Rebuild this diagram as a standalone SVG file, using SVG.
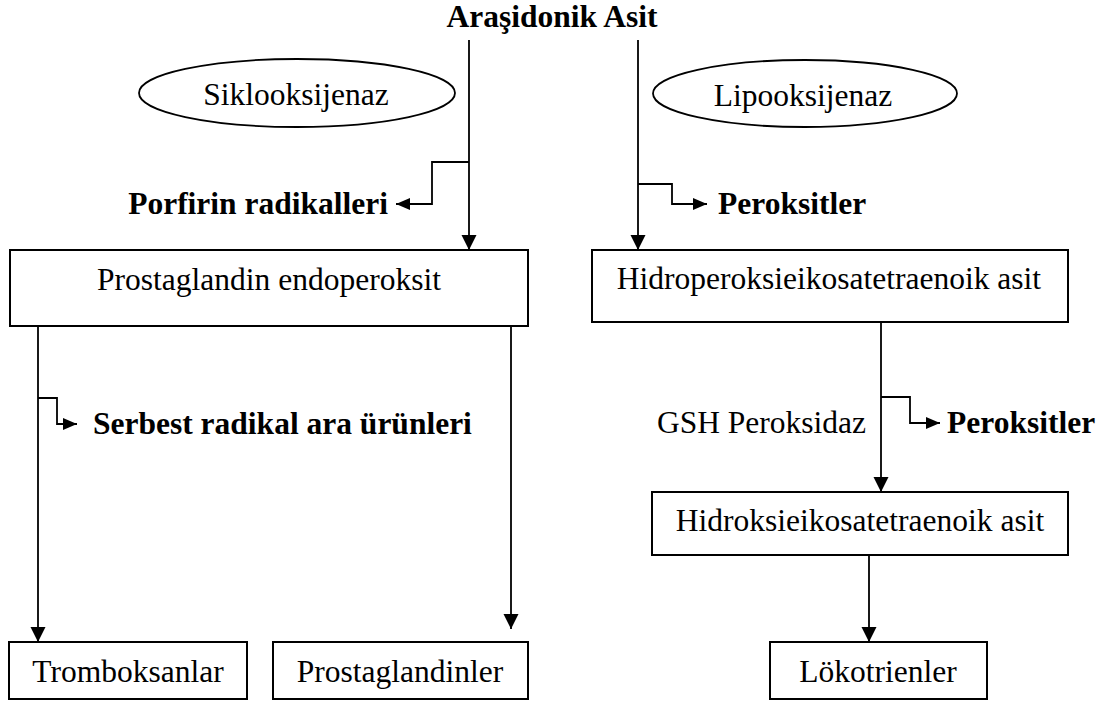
<svg xmlns="http://www.w3.org/2000/svg" width="1102" height="702" viewBox="0 0 1102 702">
<defs>
<marker id="ah" markerUnits="userSpaceOnUse" markerWidth="16" markerHeight="16" refX="15" refY="7.5" orient="auto">
<path d="M0,0 L15,7.5 L0,15 z" fill="#000"/>
</marker>
<marker id="as" markerUnits="userSpaceOnUse" markerWidth="16" markerHeight="14" refX="14" refY="6" orient="auto">
<path d="M0,0 L14,6 L0,12 z" fill="#000"/>
</marker>
</defs>
<style>
text{font-family:"Liberation Serif","Times New Roman",serif;font-size:31.5px;fill:#000}
.b{font-weight:bold}
.m{text-anchor:middle}
.box{fill:#fff;stroke:#000;stroke-width:2}
.ell{fill:#fff;stroke:#000;stroke-width:1.8}
.c{fill:none;stroke:#000;stroke-width:1.8}
.cm{marker-end:url(#ah)}
.cs{marker-end:url(#as)}
</style>
<rect width="1102" height="702" fill="#fff"/>
<g id="connectors">
<line class="c cm" x1="469" y1="40" x2="469" y2="250"/>
<line class="c cm" x1="638" y1="40" x2="638" y2="250"/>
<polyline class="c cs" points="469,162 432,162 432,204 396,204"/>
<polyline class="c cs" points="638,184 672,184 672,204 707,204"/>
<line class="c cm" x1="38" y1="326" x2="38" y2="642"/>
<polyline class="c cs" points="38,398 57,398 57,424 77,424"/>
<line class="c cm" x1="511" y1="326" x2="511" y2="629"/>
<line class="c cm" x1="881" y1="322" x2="881" y2="492"/>
<polyline class="c cs" points="881,397 910,397 910,423 940,423"/>
<line class="c cm" x1="869" y1="555" x2="869" y2="642"/>
</g>
<g id="arasidonik"><text class="b m" x="552" y="27">Araşidonik Asit</text></g>
<g id="siklooksijenaz"><ellipse class="ell" cx="297" cy="93" rx="158" ry="34"/><text class="m" x="296" y="105">Siklooksijenaz</text></g>
<g id="lipooksijenaz"><ellipse class="ell" cx="805" cy="93.5" rx="152" ry="33.5"/><text class="m" x="803" y="106">Lipooksijenaz</text></g>
<g id="porfirin"><text class="b" x="388" y="214" text-anchor="end">Porfirin radikalleri</text></g>
<g id="peroksitler1"><text class="b" x="718" y="214">Peroksitler</text></g>
<g id="prostaglandin-endoperoksit"><rect class="box" x="10" y="250" width="518" height="76"/><text class="m" x="269" y="290">Prostaglandin endoperoksit</text></g>
<g id="hidroperoksi"><rect class="box" x="592" y="250" width="476" height="72"/><text class="m" x="829" y="289">Hidroperoksieikosatetraenoik asit</text></g>
<g id="serbest"><text class="b" x="93" y="434">Serbest radikal ara ürünleri</text></g>
<g id="gsh"><text x="866" y="433" text-anchor="end">GSH Peroksidaz</text></g>
<g id="peroksitler2"><text class="b" x="947" y="433">Peroksitler</text></g>
<g id="hidroksi"><rect class="box" x="652" y="492" width="416" height="63"/><text class="m" x="860" y="531">Hidroksieikosatetraenoik asit</text></g>
<g id="tromboksanlar"><rect class="box" x="9" y="642" width="238" height="57"/><text class="m" x="128" y="682">Tromboksanlar</text></g>
<g id="prostaglandinler"><rect class="box" x="273" y="642" width="255" height="57"/><text class="m" x="400" y="682">Prostaglandinler</text></g>
<g id="lokotrienler"><rect class="box" x="770" y="642" width="217" height="57"/><text class="m" x="878" y="682">Lökotrienler</text></g>
</svg>
